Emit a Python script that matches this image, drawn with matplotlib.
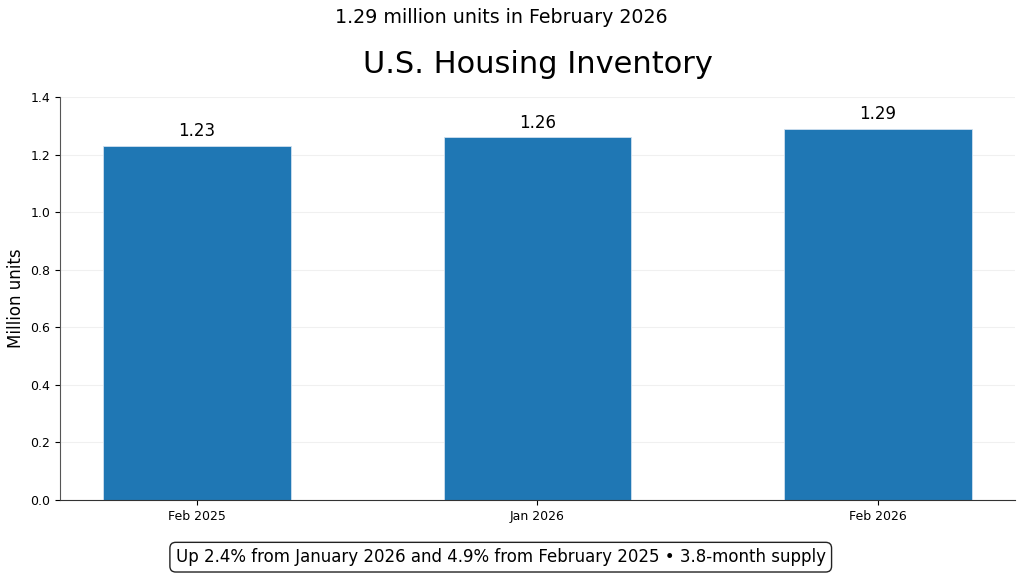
import matplotlib
matplotlib.use('Agg')
import matplotlib.pyplot as plt
import numpy as np

# data
periods = ['Feb 2025', 'Jan 2026', 'Feb 2026']
inventory = [1.23, 1.26, 1.29]
subtitle = '1.29 million units in February 2026'
title = 'U.S. Housing Inventory'
note = 'Up 2.4% from January 2026 and 4.9% from February 2025 \u2022 3.8-month supply'


def main() -> None:
    fig = plt.figure(figsize=(10.24, 5.75), dpi=100)
    ax = fig.add_axes([60 / 1024, 75 / 575, 955 / 1024, 403 / 575])

    ind = np.arange(len(periods))
    bars = ax.bar(ind, inventory, 0.55, color='#1f77b4', edgecolor='#cfe0ef', linewidth=0.6, zorder=2)
    ax.bar_label(bars, labels=['{:.2f}'.format(v) for v in inventory], padding=4, fontsize=12)

    ax.set_xticks(ind)
    ax.set_xticklabels(periods, fontsize=9)
    ax.set_ylim(0, 1.4)
    ax.set_yticks(np.arange(0, 1.41, 0.2))
    ax.set_yticklabels(['{:.1f}'.format(v) for v in np.arange(0, 1.41, 0.2)], fontsize=9)
    ax.set_ylabel('Million units', fontsize=12)
    ax.yaxis.grid(True, color='#f0f0f0', linewidth=0.8, zorder=0)
    ax.set_axisbelow(True)
    ax.spines['top'].set_visible(False)
    ax.spines['right'].set_visible(False)
    ax.spines['left'].set_color('#555555')
    ax.spines['bottom'].set_color('#333333')

    ax.set_title(title, fontsize=22, pad=17)
    fig.text(0.49, 0.969, subtitle, ha='center', va='center', fontsize=13.7)
    fig.text(0.489, 0.031, note, ha='center', va='center', fontsize=12,
             bbox=dict(boxstyle='round,pad=0.35', facecolor='white', edgecolor='#222222', linewidth=1))

    plt.savefig('out.png', dpi=100)


if __name__ == '__main__':
    main()
